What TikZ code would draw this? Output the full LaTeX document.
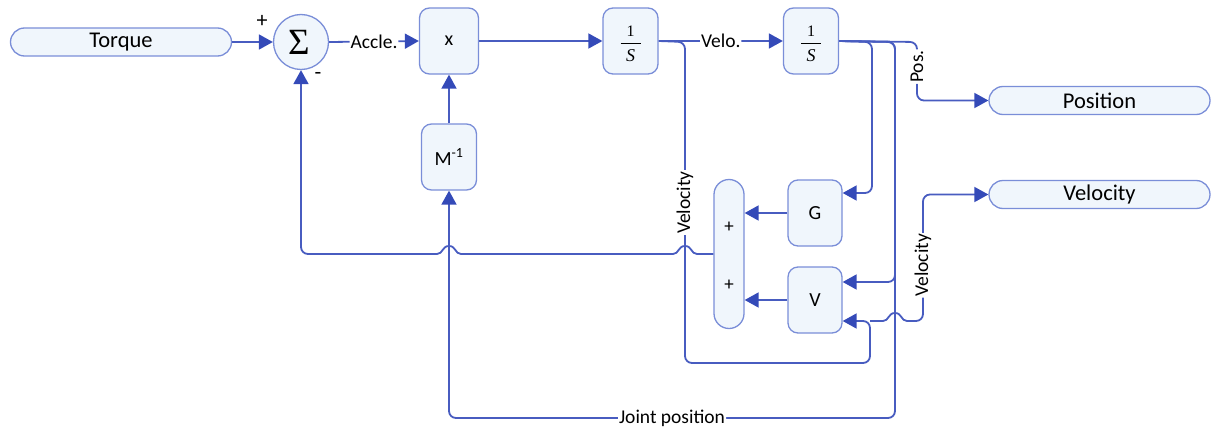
\documentclass[tikz,border=0pt]{standalone}
\usepackage[no-math]{fontspec}
\setmainfont{Carlito}
\newfontfamily\lsrf{Liberation Serif}
\usetikzlibrary{arrows.meta,calc}
\definecolor{ln}{RGB}{72,92,192}
\definecolor{arr}{RGB}{52,74,184}
\definecolor{bd}{RGB}{122,142,216}
\definecolor{bf}{RGB}{240,246,252}
\begin{document}
\begin{tikzpicture}[x=1pt,y=-1pt,
  blk/.style={draw=bd,line width=1.3pt,fill=bf,rounded corners=10pt,inner sep=0pt,minimum width=55pt,minimum height=66pt,font=\fontsize{20}{24}\selectfont},
  pill/.style={draw=bd,line width=1.3pt,fill=bf,rounded corners=14pt,minimum width=221pt,minimum height=28pt,inner sep=0pt,font=\fontsize{22.5}{26}\selectfont},
  wire/.style={draw=ln,line width=1.8pt,rounded corners=7pt},
  arw/.style={wire,-{Triangle[length=14pt,width=15pt,color=arr]}},
  lbl/.style={fill=white,inner sep=1pt,font=\fontsize{19.5}{22}\selectfont},
  vlbl/.style={lbl,rotate=90},
  sgn/.style={inner sep=0pt,font=\fontsize{22}{24}\selectfont},
  frn/.style={inner sep=0pt,anchor=base,font=\fontsize{16}{16}\lsrf},
  frd/.style={inner sep=0pt,anchor=base,font=\fontsize{18}{18}\lsrf\itshape},
  bar/.style={draw=black,line width=0.9pt},
]
\useasboundingbox (0,0) rectangle (1212,428);

% nodes
\node[pill] (torque) at (121,42) {Torque};
\node[draw=bd,line width=1.3pt,fill=bf,circle,minimum size=55pt,inner sep=0pt] (sum) at (301,42) {};
\node[inner sep=0pt,anchor=base,font=\fontsize{37}{37}\lsrf] (sigma) at (299,55) {Σ};
\node[sgn] (plus) at (262,21) {+};
\node[sgn] (minus) at (318,76) {-};
\node[blk,minimum width=59pt] (mul) at (449,41) {x};
\node[blk] (one) at (630.5,41) {};
\node[frn] (onen) at ($(one.center)+(0,-4)$) {1};
\node[frd] (oned) at ($(one.center)+(0,21)$) {S};
\draw[bar] ($(one.center)+(-10,2)$) -- ($(one.center)+(10,2)$);
\node[blk] (two) at (811,41) {};
\node[frn] (twon) at ($(two.center)+(0,-4)$) {1};
\node[frd] (twod) at ($(two.center)+(0,21)$) {S};
\draw[bar] ($(two.center)+(-10,2)$) -- ($(two.center)+(10,2)$);
\node[blk] (minv) at (449,157) {M\textsuperscript{-1}};
\node[blk,minimum width=54pt] (G) at (815,213) {G};
\node[blk,minimum width=54pt] (V) at (815,300) {V};
\node[draw=bd,line width=1.3pt,fill=bf,rounded corners=15pt,minimum width=30pt,minimum height=149pt,inner sep=0pt] (psum) at (729,254) {};
\node[sgn,font=\fontsize{19}{20}\selectfont] (p1) at (729,227) {+};
\node[sgn,font=\fontsize{19}{20}\selectfont] (p2) at (729,285) {+};
\node[pill] (pos) at (1099.5,100.5) {Position};
\node[pill] (vel) at (1099.5,194.5) {Velocity};
\coordinate (vj) at (870,321);

% forward path
\draw[arw] (torque.east) -- (sum.west);
\draw[arw] (sum.east) -- node[lbl]{Accle.} (mul.west);
\draw[arw] (mul.east) -- (one.west);
\draw[arw] (one.east) -- node[lbl]{Velo.} (two.west);
\draw[arw] (minv.north) -- (mul.south);

% position output
\draw[arw] (two.east) -- (917,42) -- node[vlbl,pos=0.42]{Pos.} (917,100.5) -- (pos.west);

% to G
\draw[arw] (two.east) -- (872,42) -- (872,193) -- ($(G.east)+(0,-20)$);
% to V upper
\draw[arw] (two.east) -- (895,42) -- (895,282) -- ($(V.east)+(0,-18)$);
% joint position
\draw[arw] (two.east) -- (895,42) -- (895,418) -- node[lbl,pos=0.5]{Joint position} (449,418) -- (minv.south);

% velocity loop to V lower
\draw[arw] (one.east) -- (685,42) -- node[vlbl,pos=0.5]{Velocity} (685,363) -- (870,363) -- (vj) -- ($(V.east)+(0,21)$);
% velocity output
\draw[arw] (vj) [sharp corners] -- (883,321) .. controls (889,321) and (888,313) .. (895,313) .. controls (902,313) and (901,321) .. (907,321)
  [rounded corners=7pt] -- (923,321) -- node[vlbl,pos=0.44]{Velocity} (923,194.5) -- (vel.west);

% G, V into adder
\draw[arw] (G.west) -- (G.west -| psum.east);
\draw[arw] (V.west) -- (V.west -| psum.east);

% feedback
\draw[arw] (psum.west) [sharp corners] -- (697,254) .. controls (691,254) and (692,246) .. (685,246) .. controls (678,246) and (679,254) .. (673,254)
  -- (461,254) .. controls (455,254) and (456,246) .. (449,246) .. controls (442,246) and (443,254) .. (437,254)
  [rounded corners=7pt] -- (301,254) -- (sum.south);
\end{tikzpicture}
\end{document}
